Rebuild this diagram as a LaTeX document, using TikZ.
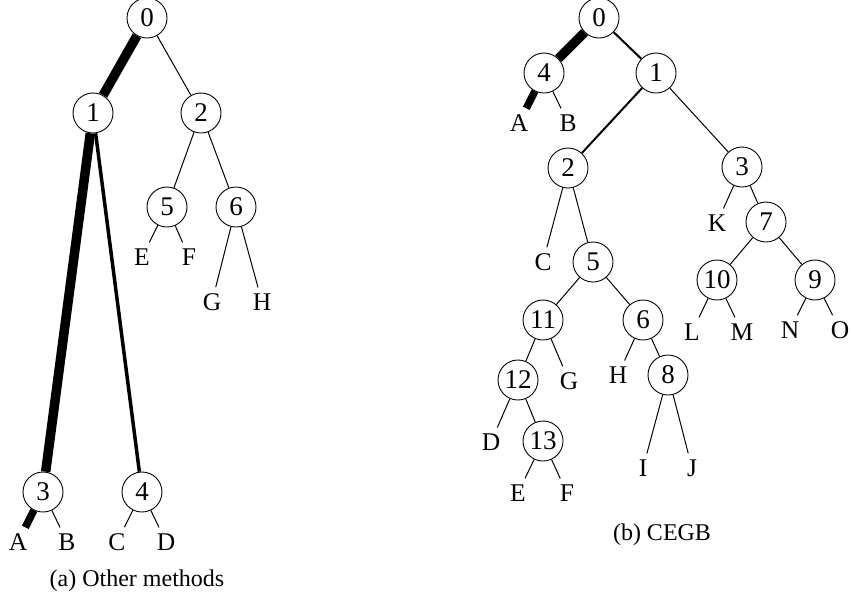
\documentclass[tikz,border=0pt]{standalone}
\usepackage{fontspec}
\setmainfont{Liberation Serif}
\usetikzlibrary{backgrounds}
\begin{document}
\begin{tikzpicture}[x=1pt,y=-1pt,
  nd/.style={circle,draw,fill=white,line width=0.9pt,minimum size=40pt,inner sep=0pt,font=\fontsize{27}{30}\selectfont},
  lf/.style={inner sep=6pt,font=\fontsize{25.5}{30}\selectfont},
  captxt/.style={inner sep=0pt,font=\fontsize{24}{28}\selectfont},
  thin/.style={line width=1pt},
  mid/.style={line width=2pt},
  med/.style={line width=3.5pt},
  heavy/.style={line width=9.5pt},
  heavier/.style={line width=7.5pt}]
\useasboundingbox (0,0) rectangle (851,598);
% ---------- (a) ----------
\node[nd] (a0) at (147,18) {0};
\node[nd] (a1) at (93,113) {1};
\node[nd] (a2) at (201,113) {2};
\node[nd] (a5) at (167,207) {5};
\node[nd] (a6) at (236,207) {6};
\node[nd] (a3) at (43,492) {3};
\node[nd] (a4) at (142,492) {4};
\node[lf] (aE) at (142,257) {E};
\node[lf] (aF) at (189,257) {F};
\node[lf] (aG) at (212,302) {G};
\node[lf] (aH) at (262,302) {H};
\node[lf] (aA) at (18,542) {A};
\node[lf] (aB) at (67,542) {B};
\node[lf] (aC) at (117,542) {C};
\node[lf] (aD) at (166,542) {D};
\node[captxt] (capa) at (137,581) {(a) Other methods};
\begin{scope}[on background layer]
\draw[heavy] (a0) -- (a1);
\draw[thin] (a0) -- (a2);
\draw[heavy] (a1) -- (a3);
\draw[med] (a1) -- (a4);
\draw[thin] (a2) -- (a5);
\draw[thin] (a2) -- (a6);
\draw[thin] (a5) -- (aE);
\draw[thin] (a5) -- (aF);
\draw[thin] (a6) -- (aG);
\draw[thin] (a6) -- (aH);
\draw[heavier] (a3) -- (aA);
\draw[thin] (a3) -- (aB);
\draw[thin] (a4) -- (aC);
\draw[thin] (a4) -- (aD);
\end{scope}
% ---------- (b) ----------
\node[nd] (b0) at (599,18) {0};
\node[nd] (b4) at (544,73) {4};
\node[nd] (b1) at (656,73) {1};
\node[nd] (b2) at (568,168) {2};
\node[nd] (b3) at (742,167) {3};
\node[nd] (b5) at (593,262) {5};
\node[nd] (b7) at (766,222) {7};
\node[nd] (b11) at (543,320) {11};
\node[nd] (b6) at (643,320) {6};
\node[nd] (b10) at (717,280) {10};
\node[nd] (b9) at (815,280) {9};
\node[nd] (b12) at (518,380) {12};
\node[nd] (b8) at (668,375) {8};
\node[nd] (b13) at (543,441) {13};
\node[lf] (bA) at (519,123) {A};
\node[lf] (bB) at (568,123) {B};
\node[lf] (bC) at (543,262) {C};
\node[lf] (bK) at (717,223) {K};
\node[lf] (bL) at (692,332) {L};
\node[lf] (bM) at (742,332) {M};
\node[lf] (bN) at (790,330) {N};
\node[lf] (bO) at (840,330) {O};
\node[lf] (bG) at (569,381) {G};
\node[lf] (bH) at (618,375) {H};
\node[lf] (bD) at (491,442) {D};
\node[lf] (bE) at (518,493) {E};
\node[lf] (bF) at (567,493) {F};
\node[lf] (bI) at (643,468) {I};
\node[lf] (bJ) at (692,468) {J};
\node[captxt] (capb) at (662,535) {(b) CEGB};
\begin{scope}[on background layer]
\draw[heavy] (b0) -- (b4);
\draw[mid] (b0) -- (b1);
\draw[heavier] (b4) -- (bA);
\draw[thin] (b4) -- (bB);
\draw[mid] (b1) -- (b2);
\draw[thin] (b1) -- (b3);
\draw[thin] (b2) -- (bC);
\draw[thin] (b2) -- (b5);
\draw[thin] (b3) -- (bK);
\draw[thin] (b3) -- (b7);
\draw[thin] (b7) -- (b10);
\draw[thin] (b7) -- (b9);
\draw[thin] (b10) -- (bL);
\draw[thin] (b10) -- (bM);
\draw[thin] (b9) -- (bN);
\draw[thin] (b9) -- (bO);
\draw[thin] (b5) -- (b11);
\draw[thin] (b5) -- (b6);
\draw[thin] (b11) -- (b12);
\draw[thin] (b11) -- (bG);
\draw[thin] (b6) -- (bH);
\draw[thin] (b6) -- (b8);
\draw[thin] (b12) -- (bD);
\draw[thin] (b12) -- (b13);
\draw[thin] (b13) -- (bE);
\draw[thin] (b13) -- (bF);
\draw[thin] (b8) -- (bI);
\draw[thin] (b8) -- (bJ);
\end{scope}
\end{tikzpicture}
\end{document}
